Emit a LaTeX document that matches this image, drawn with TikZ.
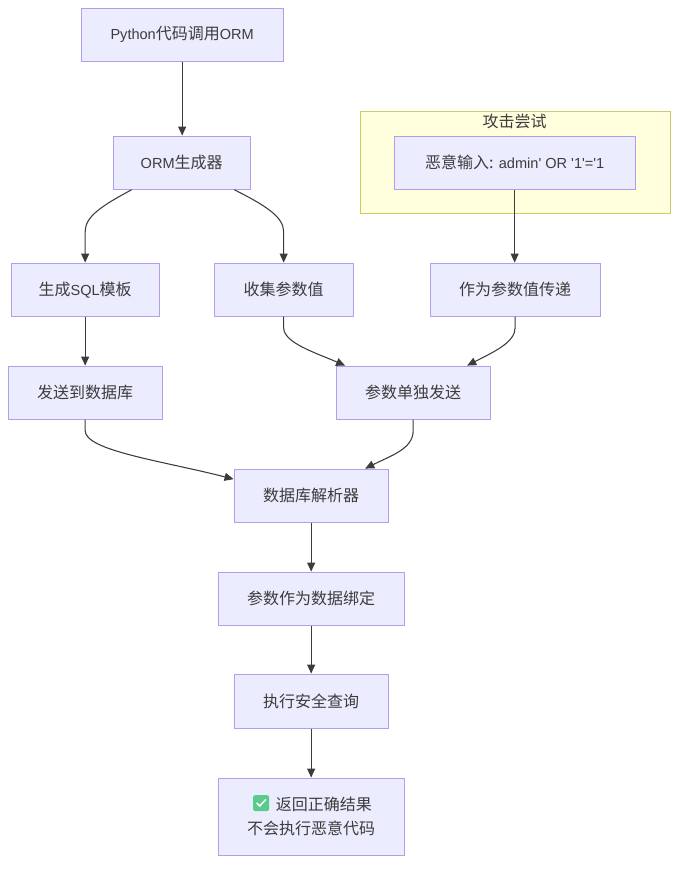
\documentclass[tikz,border=0pt]{standalone}
\usepackage{fontspec}
\setmainfont{Liberation Sans}
\newfontfamily\latf[Scale=0.91]{Liberation Sans}
\newfontfamily\cjkf{Noto Sans CJK SC}
\newcommand{\zh}[1]{{\cjkf #1}}
\usetikzlibrary{arrows.meta}
\definecolor{boxfill}{HTML}{ECECFF}
\definecolor{boxline}{HTML}{B39DEC}
\definecolor{groupfill}{HTML}{FFFFDE}
\definecolor{groupline}{HTML}{CCCC66}
\definecolor{ink}{HTML}{3C3C3C}
\definecolor{emojigreen}{HTML}{5ACB8C}
\tikzset{
  flowbox/.style={draw=boxline,fill=boxfill,line width=0.85pt,inner sep=0pt,text=ink,font=\fontsize{12}{18}\selectfont\latf,align=center,anchor=north west},
  groupbox/.style={draw=groupline,fill=groupfill,line width=0.85pt,inner sep=0pt,anchor=north west},
  link/.style={draw=ink,line width=0.8pt,-{Triangle[length=6.8pt,width=6pt,fill=ink]}},
}
\begin{document}
\begin{tikzpicture}[x=0.75pt,y=-0.75pt]
\useasboundingbox (0.4,0.4) rectangle (686.4,872.4);
\node[groupbox,minimum width=232.5pt,minimum height=76.5pt] (grp) at (360,111) {};
\node[text=ink,font=\fontsize{12}{14}\selectfont,inner sep=0pt] (grplabel) at (515,122) {\zh{攻击尝试}};
\node[flowbox,minimum width=151.5pt,minimum height=39.75pt] (py) at (81,8) {Python\zh{代码调用}ORM};
\node[flowbox,minimum width=102.75pt,minimum height=39.75pt] (orm) at (113,136) {ORM\zh{生成器}};
\node[flowbox,minimum width=180.75pt,minimum height=39.75pt] (evil) at (394,136) {\zh{恶意输入:} admin' OR '1'='1};
\node[flowbox,minimum width=111pt,minimum height=39.75pt] (sql) at (11,263) {\zh{生成}SQL\zh{模板}};
\node[flowbox,minimum width=104.25pt,minimum height=39.75pt] (collect) at (214,263) {\zh{收集参数值}};
\node[flowbox,minimum width=127.5pt,minimum height=39.75pt] (aspar) at (430,263) {\zh{作为参数值传递}};
\node[flowbox,minimum width=115.5pt,minimum height=39.75pt] (send) at (8,366) {\zh{发送到数据库}};
\node[flowbox,minimum width=115.5pt,minimum height=39.75pt] (sep) at (336,366) {\zh{参数单独发送}};
\node[flowbox,minimum width=115.5pt,minimum height=39.75pt] (db) at (234,469) {\zh{数据库解析器}};
\node[flowbox,minimum width=139.5pt,minimum height=39.75pt] (bind) at (218,572) {\zh{参数作为数据绑定}};
\node[flowbox,minimum width=115.5pt,minimum height=40.5pt] (exec) at (234,674) {\zh{执行安全查询}};
\node[flowbox,minimum width=139.5pt,minimum height=57.75pt] (res) at (218,778) {\hspace*{19pt}\zh{返回正确结果}\\\zh{不会执行恶意代码}};
% check-mark emoji
\coordinate (chk) at (261.5,803.5);
\fill[rounded corners=1.6pt,fill=emojigreen] ([xshift=-6pt,yshift=-6pt]chk) rectangle ([xshift=6pt,yshift=6pt]chk);
\draw[white,line width=1.1pt,line cap=round,line join=round] ([xshift=-3.2pt,yshift=0pt]chk) -- ([xshift=-1pt,yshift=-2.2pt]chk) -- ([xshift=3.4pt,yshift=2.6pt]chk);
% straight links
\draw[link] (py.south) -- (py.south |- orm.north);
\draw[link] (sql.south) -- (sql.south |- send.north);
\draw[link] (evil.south) -- (evil.south |- aspar.north);
\draw[link] (db.south) -- (bind.north);
\draw[link] (bind.south) -- (exec.north);
\draw[link] (exec.south) -- (res.north);
% curved links
\draw[link] ([xshift=-37.5pt]orm.south) .. controls +(-30,16) and +(0,-15) .. ([yshift=23.25pt]sql.north) -- (sql.north);
\draw[link] ([xshift=39.4pt]orm.south) .. controls +(30,15) and +(0,-15) .. ([yshift=23.25pt]collect.north) -- (collect.north);
\draw[link] (collect.south) -- ++(0,11) .. controls +(0,15) and +(-30,-13) .. ([xshift=-51pt]sep.north);
\draw[link] (aspar.south) -- ++(0,11) .. controls +(0,15) and +(25,-13) .. ([xshift=40.5pt]sep.north);
\draw[link] (send.south) -- ++(0,11) .. controls +(0,20) and +(-70,-18) .. ([yshift=12.4pt]db.west);
\draw[link] (sep.south) -- ++(0,11) .. controls +(0,18) and +(26,-13) .. ([xshift=40.5pt]db.north);
\end{tikzpicture}
\end{document}
